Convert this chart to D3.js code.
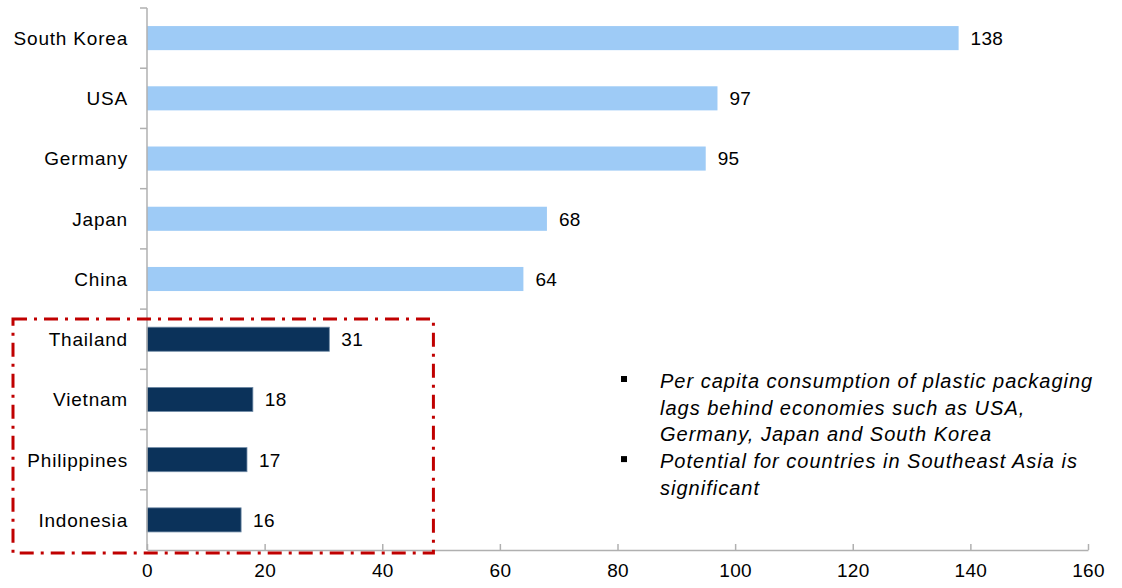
<!DOCTYPE html>
<html>
<head>
<meta charset="utf-8">
<script src="https://cdn.jsdelivr.net/npm/d3@7"></script>
<style>
  body { margin: 0; background: #fff; }
  text { font-family: "Liberation Sans", Arial, sans-serif; fill: #000; }
</style>
</head>
<body>
<div class="chart"></div>
<script>
// data
const countries = ["South Korea", "USA", "Germany", "Japan", "China", "Thailand", "Vietnam", "Philippines", "Indonesia"];
const values = [138, 97, 95, 68, 64, 31, 18, 17, 16];
const highlighted = ["Thailand", "Vietnam", "Philippines", "Indonesia"];
const xTicks = [0, 20, 40, 60, 80, 100, 120, 140, 160];
const notes = [
  ["Per capita consumption of plastic packaging", "lags behind economies such as USA,", "Germany, Japan and South Korea"],
  ["Potential for countries in Southeast Asia is", "significant"]
];

const Margin = { top: 8, right: 34, bottom: 38, left: 147 };
const Width = 1122 - Margin.left - Margin.right;
const Height = 588 - Margin.top - Margin.bottom;

const svg = d3.select(".chart").append("svg")
    .attr("width", 1122)
    .attr("height", 588);

const g = svg.append("g")
    .attr("transform", "translate(" + Margin.left + "," + Margin.top + ")");

// scales
const x = d3.scaleLinear().domain([0, 160]).range([0, Width]);
const y = d3.scaleBand().domain(countries).range([0, Height]).paddingInner(0.6).paddingOuter(0.3);

const data = countries.map((c, i) => ({ name: c, value: values[i] }));

// bars
g.selectAll(".bar")
  .data(data)
  .enter().append("rect")
    .attr("class", "bar")
    .attr("x", 0)
    .attr("y", d => y(d.name))
    .attr("width", d => x(d.value))
    .attr("height", y.bandwidth())
    .style("fill", d => highlighted.includes(d.name) ? "#0b325a" : "#9ecbf6")
    .style("stroke", d => highlighted.includes(d.name) ? "#6f8aa6" : "none")
    .style("stroke-width", 0.8);

// value labels
g.selectAll(".val")
  .data(data)
  .enter().append("text")
    .attr("x", d => x(d.value) + 12)
    .attr("y", d => y(d.name) + y.bandwidth() / 2)
    .attr("dy", ".36em")
    .style("font-size", "19px")
    .style("letter-spacing", "0.3px")
    .text(d => d.value);

// x axis
const xAxis = g.append("g")
  .attr("transform", "translate(0," + Height + ")")
  .call(d3.axisBottom(x).tickValues(xTicks).tickSizeInner(-6).tickSizeOuter(0).tickPadding(14));
xAxis.select(".domain").style("stroke", "#b0b0b0").style("stroke-width", 1.5);
xAxis.selectAll(".tick line").style("stroke", "#b0b0b0").style("stroke-width", 1.5);
xAxis.selectAll("text")
  .style("font-size", "19px")
  .style("letter-spacing", "0.3px")
  .style("font-family", "Liberation Sans, Arial, sans-serif");

// y axis: line plus ticks at band boundaries
g.append("line")
  .attr("x1", 0).attr("x2", 0)
  .attr("y1", 0).attr("y2", Height)
  .style("stroke", "#b0b0b0").style("stroke-width", 1.5);

const step = y.step();
g.selectAll(".ytick")
  .data(d3.range(countries.length))
  .enter().append("line")
    .attr("x1", -7).attr("x2", 0)
    .attr("y1", i => y(countries[i]) - step * 0.3)
    .attr("y2", i => y(countries[i]) - step * 0.3)
    .style("stroke", "#b0b0b0").style("stroke-width", 1.5);

// category labels
g.selectAll(".cat")
  .data(data)
  .enter().append("text")
    .attr("x", -19)
    .attr("y", d => y(d.name) + y.bandwidth() / 2)
    .attr("dy", ".36em")
    .attr("text-anchor", "end")
    .style("font-size", "19px")
    .style("letter-spacing", "0.8px")
    .text(d => d.name);

// red dash-dot box around Southeast Asia
const boxTop = y("Thailand") - step * 0.3 + 10;
svg.append("rect")
  .attr("x", 13)
  .attr("y", Margin.top + boxTop)
  .attr("width", Margin.left + x(48.7) - 13)
  .attr("height", Height - boxTop + 3)
  .style("fill", "none")
  .style("stroke", "#c00000")
  .style("stroke-width", 3)
  .style("stroke-dasharray", "14,7,3,7");

// notes
let lineY = 381;
const lh = 26.7;
notes.forEach(note => {
  svg.append("rect")
    .attr("x", 621).attr("y", lineY - 5)
    .attr("width", 6).attr("height", 6)
    .style("fill", "#000");
  note.forEach(line => {
    svg.append("text")
      .attr("x", 660)
      .attr("y", lineY)
      .attr("dy", ".35em")
      .style("font-size", "20px")
      .style("letter-spacing", "1px")
      .style("font-style", "italic")
      .text(line);
    lineY += lh;
  });
});
</script>
</body>
</html>
